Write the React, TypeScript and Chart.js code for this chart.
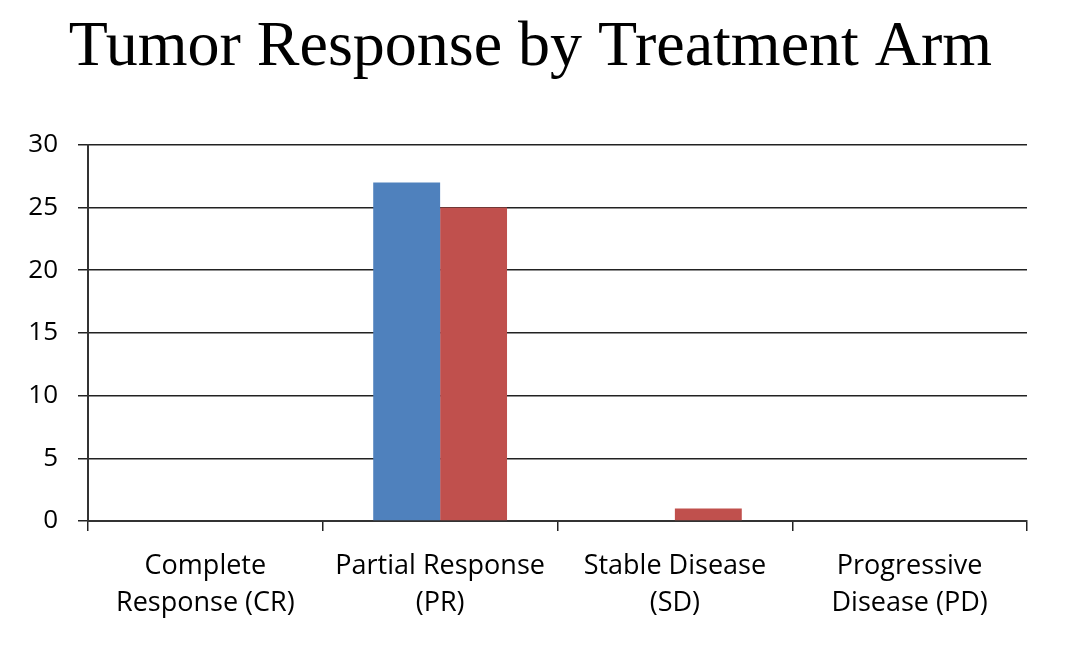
import { Chart, registerables } from "chart.js";
import { useEffect, useRef } from "react";

Chart.register(...registerables);

// categories as two-line labels
const categories = [
  ["Complete", "Response (CR)"],
  ["Partial Response", "(PR)"],
  ["Stable Disease", "(SD)"],
  ["Progressive", "Disease (PD)"],
];

const armA = [0, 27, 0, 0];
const armB = [0, 25, 1, 0];

const yTicks = [0, 5, 10, 15, 20, 25, 30];

export default function App() {
  const chartRef = useRef<HTMLCanvasElement>(null);
  const chartInstance = useRef<Chart | null>(null);

  useEffect(() => {
    document.body.style.margin = "0";
    if (!chartRef.current) return;
    if (chartInstance.current) chartInstance.current.destroy();

    const ctx = chartRef.current.getContext("2d");
    if (!ctx) return;

    chartInstance.current = new Chart(ctx, {
      type: "bar",
      data: {
        labels: categories,
        datasets: [
          {
            label: "Arm A",
            data: armA,
            backgroundColor: "#4F81BD",
            borderWidth: 0,
          },
          {
            label: "Arm B",
            data: armB,
            backgroundColor: "#C0504D",
            borderWidth: 0,
          },
        ],
      },
      options: {
        responsive: true,
        maintainAspectRatio: false,
        animation: false,
        layout: { padding: { left: 0, right: 12, top: 0, bottom: 0 } },
        datasets: {
          bar: { categoryPercentage: 0.57, barPercentage: 1 },
        },
        plugins: {
          legend: { display: false },
          tooltip: { enabled: false },
          title: {
            display: true,
            text: "Tumor Response by Treatment Arm",
            color: "#000",
            font: { family: "'Liberation Serif', 'Times New Roman', serif", size: 64, weight: "normal", lineHeight: 1.2 },
            padding: { top: 10, bottom: 58 },
          },
        },
        scales: {
          x: {
            grid: {
              display: true,
              drawOnChartArea: false,
              drawTicks: true,
              tickLength: 10,
              color: "#222",
              lineWidth: 1.5,
            },
            border: { display: true, color: "#333", width: 2 },
            ticks: {
              color: "#000",
              padding: 16,
              maxRotation: 0,
              font: { family: "'Open Sans', sans-serif", size: 27, lineHeight: 1.4 },
            },
            afterFit: (scale: any) => {
              scale.height = 128;
            },
          },
          y: {
            min: 0,
            max: 30,
            afterBuildTicks: (scale: any) => {
              scale.ticks = yTicks.map((v) => ({ value: v }));
            },
            grid: {
              color: "#222",
              lineWidth: 1.5,
              tickLength: 10,
            },
            border: { display: true, color: "#333", width: 2 },
            ticks: {
              color: "#000",
              padding: 20,
              font: { family: "'Open Sans', sans-serif", size: 26 },
            },
            afterFit: (scale: any) => {
              scale.width = 88;
            },
          },
          // empty right-hand spacer so the title stays centred on the page
          spacer: {
            type: "linear",
            position: "right",
            display: true,
            grid: { display: false },
            border: { display: false },
            ticks: { display: false },
            afterFit: (scale: any) => {
              scale.width = 34;
            },
          },
        },
      },
    });

    return () => {
      if (chartInstance.current) {
        chartInstance.current.destroy();
        chartInstance.current = null;
      }
    };
  }, []);

  return (
    <div style={{ width: 1073, height: 649, background: "#fff" }}>
      <canvas ref={chartRef}></canvas>
    </div>
  );
}
